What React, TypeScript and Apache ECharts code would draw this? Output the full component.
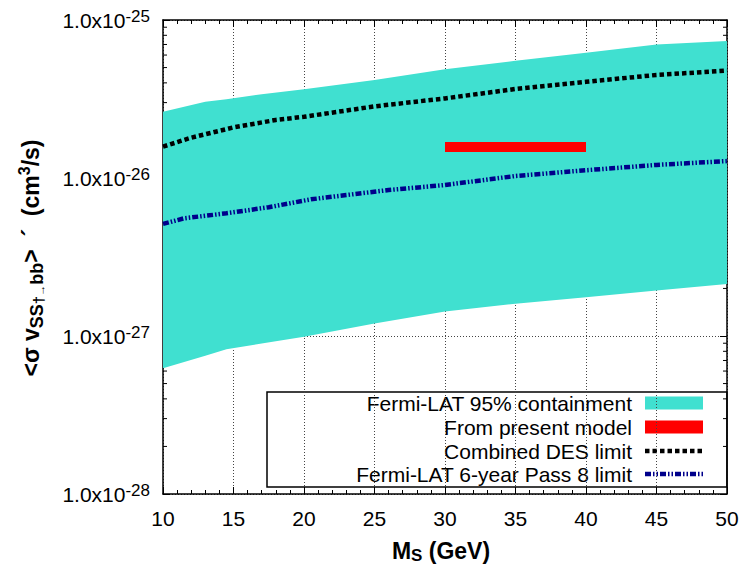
import React, { useEffect, useRef } from "react";
import * as echarts from "echarts";

// ---- data (cross sections in cm^3/s) ----
const bandMass = [10, 13, 14.5, 17, 20, 25, 30, 35, 40, 45, 50];
const bandUpper = [2.63e-26, 3.04e-26, 3.15e-26, 3.39e-26, 3.64e-26, 4.17e-26, 4.88e-26, 5.52e-26, 6.2e-26, 7.01e-26, 7.36e-26];
const bandLower = [6.25e-28, 7.5e-28, 8.24e-28, 8.95e-28, 9.9e-28, 1.2e-27, 1.43e-27, 1.6e-27, 1.76e-27, 1.94e-27, 2.13e-27];

const desMass = [10, 12, 15, 18, 20, 25, 30, 35, 40, 45, 50];
const desLimit = [1.58e-26, 1.8e-26, 2.09e-26, 2.33e-26, 2.44e-26, 2.84e-26, 3.19e-26, 3.66e-26, 4.06e-26, 4.49e-26, 4.78e-26];

const fermiMass = [10, 11.5, 14.5, 17.5, 20.5, 23, 26, 30, 35, 40, 45, 50];
const fermiLimit = [5.12e-27, 5.56e-27, 5.98e-27, 6.53e-27, 7.33e-27, 7.8e-27, 8.39e-27, 9.03e-27, 1.03e-26, 1.12e-26, 1.21e-26, 1.28e-26];

const modelMass = [30, 40];
const modelSigma = [1.57e-26, 1.57e-26];

const legendLabels = [
  "Fermi-LAT 95% containment",
  "From present model",
  "Combined DES limit",
  "Fermi-LAT 6-year Pass 8 limit",
];

const xMin = 10;
const xMax = 50;
const xStep = 5;
const yMin = 1e-28;
const yMax = 1e-25;
const minorMantissas = [2, 3, 4, 5, 6, 7, 8, 9];
const decades = [1e-28, 1e-27, 1e-26];

// the log axis works in units of 1e-28 cm^3/s (avoids float precision loss on tiny numbers)
const UNIT_EXP = -28;
const UNIT = 1e-28;

const FONT = "'Liberation Sans', Arial, Helvetica, sans-serif";
const TURQ = "#40e0d0";
const NAVY = "#00008b";

export default function App() {
  const ref = useRef<HTMLDivElement>(null);

  useEffect(() => {
    if (!ref.current) return;
    const chart = echarts.init(ref.current, null, { renderer: "svg" });

    const u = (v: number) => v / UNIT;
    const minorTickValues: number[] = [];
    decades.forEach((d) => minorMantissas.forEach((m) => minorTickValues.push(u(m * d))));
    const zip = (xs: number[], ys: number[]) => xs.map((x, i) => [x, u(ys[i])]);

    const axisLine = { show: true, lineStyle: { color: "#000", width: 1.5 } };
    const tick = { show: true, inside: true, length: 7, lineStyle: { color: "#000", width: 1 } };
    const gridLine = { show: true, lineStyle: { color: "#444", width: 1, type: [1, 2] } };

    const legendTop = 392;
    const legendLeft = 267;
    const legendRight = 727;
    const rowY = [403, 427, 451, 474];
    const textX = 632;
    const sx0 = 645;
    const sx1 = 703;

    const option: any = {
      animation: false,
      textStyle: { fontFamily: FONT },
      grid: { left: 163, right: 16, top: 20, bottom: 74, containLabel: false, outerBoundsMode: "none" },
      xAxis: [
        {
          type: "value",
          min: xMin,
          max: xMax,
          interval: xStep,
          position: "bottom",
          axisLine,
          axisTick: tick,
          minorTick: { show: true, splitNumber: 5, length: 4, lineStyle: { color: "#000", width: 1 } },
          splitLine: gridLine,
          axisLabel: { fontFamily: FONT, fontSize: 21, color: "#000", margin: 14 },
        },
        {
          type: "value",
          min: xMin,
          max: xMax,
          interval: xStep,
          position: "top",
          axisLine,
          axisTick: tick,
          minorTick: { show: true, splitNumber: 5, length: 4, lineStyle: { color: "#000", width: 1 } },
          splitLine: { show: false },
          axisLabel: { show: false },
        },
      ],
      yAxis: [
        {
          type: "log",
          logBase: 10,
          min: u(yMin),
          max: u(yMax),
          position: "left",
          axisLine,
          axisTick: tick,
          splitLine: gridLine,
          axisLabel: {
            margin: 13,
            formatter: (v: number) => `{b|1.0x10}{s|${Math.round(Math.log10(v)) + UNIT_EXP}}`,
            rich: {
              b: { fontFamily: FONT, fontSize: 21, color: "#000", lineHeight: 24, verticalAlign: "middle" },
              s: { fontFamily: FONT, fontSize: 17, color: "#000", lineHeight: 14, verticalAlign: "top" },
            },
          },
        },
        {
          type: "log",
          logBase: 10,
          min: u(yMin),
          max: u(yMax),
          position: "right",
          axisLine,
          axisTick: tick,
          splitLine: { show: false },
          axisLabel: { show: false },
        },
      ],
      series: [
        {
          name: "minor ticks",
          type: "custom",
          z: 1,
          silent: true,
          data: minorTickValues.map((v) => [xMin, v]),
          renderItem: (_p: any, api: any) => {
            const v = api.value(1);
            const l = api.coord([xMin, v]);
            const r = api.coord([xMax, v]);
            return {
              type: "group",
              children: [
                { type: "line", shape: { x1: l[0], y1: l[1], x2: l[0] + 4, y2: l[1] }, style: { stroke: "#000", lineWidth: 1 } },
                { type: "line", shape: { x1: r[0] - 4, y1: r[1], x2: r[0], y2: r[1] }, style: { stroke: "#000", lineWidth: 1 } },
              ],
            };
          },
        },
        {
          name: legendLabels[0],
          type: "custom",
          z: 2,
          silent: true,
          data: [[bandMass[0], u(bandUpper[0])]],
          renderItem: (_p: any, api: any) => {
            const pts: number[][] = [];
            bandMass.forEach((m, i) => pts.push(api.coord([m, u(bandUpper[i])])));
            for (let i = bandMass.length - 1; i >= 0; i--) pts.push(api.coord([bandMass[i], u(bandLower[i])]));
            return { type: "polygon", shape: { points: pts }, style: { fill: TURQ } };
          },
        },
        {
          name: legendLabels[1],
          type: "line",
          z: 3,
          data: zip(modelMass, modelSigma),
          symbol: "none",
          lineStyle: { color: "#ff0000", width: 10, cap: "butt" },
        },
        {
          name: legendLabels[2],
          type: "line",
          z: 4,
          data: zip(desMass, desLimit),
          symbol: "none",
          lineStyle: { color: "#000", width: 4.5, type: [4.5, 3], cap: "butt" },
        },
        {
          name: legendLabels[3],
          type: "line",
          z: 4,
          data: zip(fermiMass, fermiLimit),
          symbol: "none",
          lineStyle: { color: NAVY, width: 4.5, type: [6, 2, 1.5, 2, 1.5, 2], cap: "butt" },
        },
      ],
      graphic: [
        {
          type: "text",
          x: 31,
          y: 258,
          rotation: Math.PI / 2,
          style: {
            text: "{b|<σ v}{sub|SS}{dag|†}{arr|→}{sub|bb}{b|>  ´  (cm}{sup|3}{b|/s)}",
            align: "center",
            verticalAlign: "middle",
            rich: {
              b: { fontFamily: FONT, fontWeight: "bold", fontSize: 23, color: "#000", lineHeight: 30 },
              sub: { fontFamily: FONT, fontWeight: "bold", fontSize: 18, color: "#000", lineHeight: 14, verticalAlign: "bottom" },
              dag: { fontFamily: FONT, fontWeight: "bold", fontSize: 15, color: "#000", lineHeight: 26, verticalAlign: "bottom" },
              arr: { fontFamily: FONT, fontSize: 11, color: "#555", lineHeight: 12, verticalAlign: "bottom" },
              sup: { fontFamily: FONT, fontWeight: "bold", fontSize: 16, color: "#000", lineHeight: 14, verticalAlign: "top" },
            },
          },
        },
        {
          type: "text",
          x: 441,
          y: 551,
          style: {
            text: "{b|M}{sub|S}{b| (GeV)}",
            align: "center",
            verticalAlign: "middle",
            rich: {
              b: { fontFamily: FONT, fontWeight: "bold", fontSize: 23, color: "#000", lineHeight: 26 },
              sub: { fontFamily: FONT, fontWeight: "bold", fontSize: 17, color: "#000", lineHeight: 12, verticalAlign: "bottom" },
            },
          },
        },
        {
          type: "group",
          z: 100,
          children: [
            {
              type: "rect",
              shape: { x: legendLeft, y: legendTop, width: legendRight - legendLeft, height: 95 },
              style: { fill: "#fff", stroke: "#000", lineWidth: 1.5 },
            },
            ...legendLabels.map((t, i) => ({
              type: "text",
              x: textX,
              y: rowY[i],
              style: { text: t, fontFamily: FONT, fontSize: 21, fill: "#000", align: "right", verticalAlign: "middle" },
            })),
            { type: "rect", shape: { x: sx0, y: rowY[0] - 6.5, width: sx1 - sx0, height: 13 }, style: { fill: TURQ } },
            { type: "rect", shape: { x: sx0, y: rowY[1] - 6.5, width: sx1 - sx0, height: 13 }, style: { fill: "#ff0000" } },
            {
              type: "line",
              shape: { x1: sx0, y1: rowY[2], x2: sx1, y2: rowY[2] },
              style: { stroke: "#000", lineWidth: 4.5, lineDash: [4.5, 3] },
            },
            {
              type: "line",
              shape: { x1: sx0, y1: rowY[3], x2: sx1, y2: rowY[3] },
              style: { stroke: NAVY, lineWidth: 4.5, lineDash: [6, 2, 1.5, 2, 1.5, 2] },
            },
          ],
        },
      ],
    };

    chart.setOption(option);
    return () => chart.dispose();
  }, []);

  return (
    <div
      ref={ref}
      style={{ position: "fixed", left: 0, top: 0, width: 743, height: 568, background: "#fff" }}
    />
  );
}
